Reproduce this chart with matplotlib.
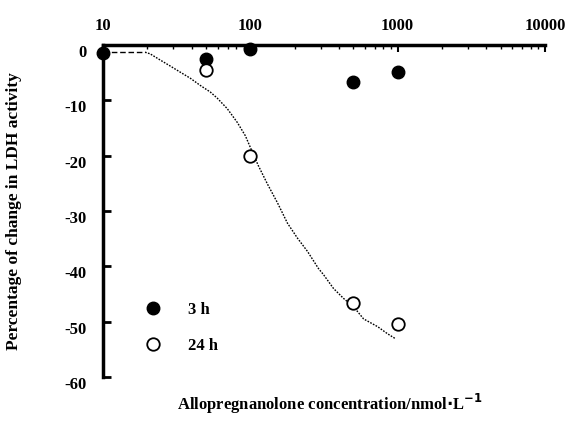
import matplotlib.pyplot as plt
import numpy as np

# concentration (nmol/L) and % change of LDH activity
conc = [10, 50, 100, 500, 1000]
h3 = [-1.5, -2.5, -0.8, -6.7, -4.9]
conc24 = [50, 100, 500, 1000]
h24 = [-4.5, -20, -46.7, -50.4]

# fitted curve
fit_x = [10, 19.3, 20.9, 24.4, 28.6, 33.4, 39.1, 45.7, 53.5, 59.6, 69.7, 81.6, 92.5, 100,
         113.3, 130.5, 152.7, 178.6, 208.8, 244.3, 290.1, 313.8, 366.9, 429.2, 502, 587,
         731, 855, 969]
fit_y = [-1.3, -1.3, -1.6, -2.7, -3.8, -4.9, -6.0, -7.3, -8.5, -9.6, -11.5, -14.0, -16.4,
         -18.5, -21.8, -25.1, -28.5, -32.2, -34.9, -37.3, -40.4, -41.5, -44.0, -45.8, -47.3,
         -49.5, -50.9, -52.2, -53.1]

plt.rcParams['font.family'] = ['Liberation Serif', 'DejaVu Serif']
plt.rcParams['font.weight'] = 'bold'

fig = plt.figure(figsize=(5.68, 4.23), dpi=100)
ax = fig.add_axes([103/568, 1 - 377/423, 442/568, 332/423])

ax.plot(fit_x[:2], fit_y[:2], color='black', lw=1, dashes=(4, 2))
ax.plot(fit_x[1:], fit_y[1:], color='black', lw=1, dashes=(1.2, 1.0))

ax.plot(conc, h3, 'o', color='black', ms=9, clip_on=False, label='3 h', zorder=5)
ax.plot(conc24, h24, 'o', mfc='white', mec='black', mew=1.3, ms=9, clip_on=False,
        label='24 h', zorder=5)

ax.set_xscale('log')
ax.set_xlim(10, 10000)
ax.set_ylim(-60, 0)

ax.spines['right'].set_visible(False)
ax.spines['bottom'].set_visible(False)
ax.spines['left'].set_linewidth(2.5)
ax.spines['top'].set_linewidth(2.5)

ax.xaxis.set_ticks_position('top')
ax.set_xticks([10, 100, 1000, 10000])
ax.set_xticklabels(['10', '100', '1000', '10000'])
ax.tick_params(axis='x', which='major', direction='in', length=5, width=1.5, pad=8, labelsize=12)
ax.tick_params(axis='x', which='minor', direction='in', length=3, width=1)
ax.set_yticks([0, -10, -20, -30, -40, -50, -60])
ax.set_yticklabels(['0', '-10', '-20', '-30', '-40', '-50', '-60'])
ax.tick_params(axis='y', direction='in', length=6, width=2, pad=12, labelsize=12)
for lab in ax.get_yticklabels():
    lab.set_verticalalignment('top')

ax.set_ylabel('Percentage of change in LDH activity', fontsize=12.5, fontweight='bold', labelpad=30)
fig.text(0.58, 0.03, 'Allopregnanolone concentration/nmol$\\cdot$L$^{-1}$', ha='center',
         fontsize=12, fontweight='bold')

ax.legend(loc='lower left', bbox_to_anchor=(0.06, 0.025), frameon=False, fontsize=12,
          handletextpad=1.6, labelspacing=1.2, handlelength=1)

fig.savefig('out.png', dpi=100)
